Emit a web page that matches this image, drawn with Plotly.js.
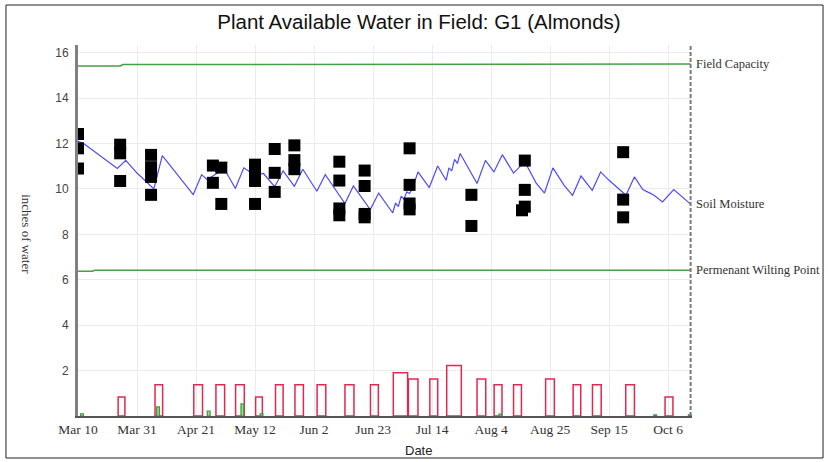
<!DOCTYPE html>
<html>
<head>
<meta charset="utf-8">
<script src="https://cdn.plot.ly/plotly-3.0.1.min.js"></script>
<style>
  html, body { margin: 0; padding: 0; background: #fff; }
  #chart { width: 828px; height: 462px; }
</style>
</head>
<body>
<div id="chart"></div>
<script>
// Soil moisture model line (inches of water)
const soilDates = ['2017-03-10', '2017-03-12', '2017-03-24', '2017-03-27', '2017-03-31', '2017-04-06',
  '2017-04-09', '2017-04-20', '2017-04-23', '2017-04-25', '2017-05-01', '2017-05-05', '2017-05-08',
  '2017-05-12', '2017-05-15', '2017-05-19', '2017-05-22', '2017-05-26', '2017-05-29', '2017-06-03',
  '2017-06-06', '2017-06-13', '2017-06-16', '2017-06-22', '2017-06-25', '2017-06-30', '2017-07-01',
  '2017-07-02', '2017-07-03', '2017-07-04', '2017-07-05', '2017-07-06', '2017-07-07', '2017-07-09',
  '2017-07-13', '2017-07-16', '2017-07-19', '2017-07-20', '2017-07-21', '2017-07-22', '2017-07-23',
  '2017-07-24', '2017-07-30', '2017-08-02', '2017-08-05', '2017-08-08', '2017-08-12', '2017-08-16',
  '2017-08-20', '2017-08-23', '2017-08-26', '2017-08-30', '2017-09-02', '2017-09-05', '2017-09-09',
  '2017-09-12', '2017-09-15', '2017-09-21', '2017-09-24', '2017-09-27', '2017-09-29', '2017-10-01',
  '2017-10-04', '2017-10-08', '2017-10-14'];
const soilValues = [12.1, 12.0, 10.9, 11.26, 10.7, 10.0,
  11.47, 9.75, 10.63, 10.41, 10.9, 10.02, 10.93,
  10.6, 10.68, 10.1, 10.8, 10.12, 10.87, 9.9,
  10.63, 9.36, 10.13, 9.09, 9.82, 8.94, 9.38,
  9.22, 9.68, 9.55, 9.87, 9.8, 10.02, 10.75,
  10.06, 11.01, 10.38, 10.93, 10.8, 11.3, 11.12,
  11.56, 10.24, 11.26, 10.75, 11.51, 10.7, 11.2,
  10.27, 9.82, 10.93, 10.16, 9.72, 10.57, 9.94,
  10.75, 10.38, 9.72, 10.53, 9.97, 9.85, 9.72,
  9.43, 9.97, 9.33];

// Field readings (black squares)
const readDates = ['2017-03-10', '2017-03-10', '2017-03-10',
  '2017-03-25', '2017-03-25', '2017-03-25',
  '2017-04-05', '2017-04-05', '2017-04-05', '2017-04-05',
  '2017-04-27', '2017-04-27', '2017-04-30', '2017-04-30',
  '2017-05-12', '2017-05-12', '2017-05-12', '2017-05-12',
  '2017-05-19', '2017-05-19', '2017-05-19',
  '2017-05-26', '2017-05-26', '2017-05-26',
  '2017-06-11', '2017-06-11', '2017-06-11', '2017-06-11',
  '2017-06-20', '2017-06-20', '2017-06-20', '2017-06-20',
  '2017-07-06', '2017-07-06', '2017-07-06', '2017-07-06',
  '2017-07-28', '2017-07-28',
  '2017-08-15', '2017-08-16', '2017-08-16', '2017-08-16',
  '2017-09-20', '2017-09-20', '2017-09-20'];
const readValues = [12.42, 11.79, 10.9,
  11.95, 11.57, 10.35,
  11.5, 10.96, 10.53, 9.74,
  11.03, 10.27, 10.94, 9.34,
  11.07, 10.71, 10.35, 9.34,
  11.76, 10.71, 9.87,
  11.92, 11.27, 10.87,
  11.2, 10.37, 9.14, 8.84,
  10.81, 10.13, 8.9, 8.75,
  11.79, 10.18, 9.36, 9.1,
  9.74, 8.37,
  9.06, 11.25, 9.96, 9.22,
  11.62, 9.53, 8.75];

// Field capacity and permanent wilting point
const fcDates = ['2017-03-10', '2017-03-25', '2017-03-26', '2017-04-05', '2017-04-06', '2017-10-14'];
const fcValues = [15.42, 15.42, 15.48, 15.48, 15.5, 15.5];
const pwpDates = ['2017-03-10', '2017-03-15', '2017-03-16', '2017-10-14'];
const pwpValues = [6.38, 6.38, 6.42, 6.42];

// Irrigation events (red outlined bars): start, duration in days, inches
const irrigStart = ['2017-03-24 07:00', '2017-04-06 10:00', '2017-04-20 05:00', '2017-04-28 02:00',
  '2017-05-05 02:00', '2017-05-12 05:00', '2017-05-19 07:00', '2017-05-26 05:00', '2017-06-03 02:00',
  '2017-06-13 00:00', '2017-06-22 02:00', '2017-06-30 05:00', '2017-07-05 14:00', '2017-07-13 05:00',
  '2017-07-19 05:00', '2017-07-30 00:00', '2017-08-05 02:00', '2017-08-12 00:00', '2017-08-23 10:00',
  '2017-09-02 05:00', '2017-09-09 02:00', '2017-09-20 22:00', '2017-10-04 22:00'];
const irrigDays = [2.4, 2.7, 3.1, 3.1, 3.1, 2.4, 2.7, 3.0, 3.1, 3.2, 2.8, 5.1, 3.4, 2.8,
  5.2, 3.1, 2.8, 2.8, 3.1, 2.7, 3.1, 3.1, 2.8];
const irrigInches = [0.84, 1.38, 1.38, 1.38, 1.38, 0.84, 1.38, 1.38, 1.38, 1.38, 1.38, 1.9, 1.63, 1.63,
  2.22, 1.63, 1.38, 1.38, 1.63, 1.38, 1.38, 1.38, 0.84];

// Rain events (small green bars)
const rainDates = ['2017-03-11 10:00', '2017-04-07 12:00', '2017-04-25 12:00', '2017-05-07 12:00',
  '2017-05-14 07:00', '2017-08-07 07:00', '2017-10-01 10:00', '2017-10-13 17:00'];
const rainInches = [0.1, 0.4, 0.22, 0.54, 0.09, 0.08, 0.05, 0.05];

const DAY = 86400000;
const endDate = '2017-10-14';
const serif = 'Liberation Serif, Times New Roman, serif';
const sans = 'Liberation Sans, Arial, sans-serif';

const traces = [
  {
    type: 'bar', x: irrigStart, y: irrigInches,
    width: irrigDays.map(d => d * DAY), offset: 0,
    marker: { color: 'rgba(255,255,255,0)', line: { color: '#e0294f', width: 1.5 } },
    hoverinfo: 'skip'
  },
  {
    type: 'bar', x: rainDates, y: rainInches,
    width: rainDates.map(() => 1.0 * DAY),
    marker: { color: '#9ad89a', line: { color: '#3c9a3c', width: 1.2 } },
    hoverinfo: 'skip'
  },
  {
    type: 'scatter', mode: 'lines', x: fcDates, y: fcValues,
    line: { color: '#45a045', width: 1.5 }
  },
  {
    type: 'scatter', mode: 'lines', x: pwpDates, y: pwpValues,
    line: { color: '#45a045', width: 1.5 }
  },
  {
    type: 'scatter', mode: 'lines', x: soilDates, y: soilValues,
    line: { color: '#4c4cf5', width: 1.2 }
  },
  {
    type: 'scatter', mode: 'markers', x: readDates, y: readValues,
    marker: { symbol: 'square', size: 12, color: '#000' }
  }
];

const labelFont = { family: serif, size: 12.5, color: '#333' };

const layout = {
  width: 828, height: 462,
  margin: { l: 78, r: 136, t: 45, b: 46 },
  paper_bgcolor: '#fff', plot_bgcolor: '#fff',
  showlegend: false,
  barmode: 'overlay',
  title: {
    text: 'Plant Available Water in Field: G1 (Almonds)',
    font: { family: sans, size: 20.5, color: '#111' },
    xref: 'container', x: 0.506, xanchor: 'center',
    yref: 'container', y: 0.952, yanchor: 'middle'
  },
  xaxis: {
    type: 'date',
    range: ['2017-03-10', '2017-10-14 12:00'],
    tick0: '2017-03-10', dtick: 21 * DAY,
    tickformat: '%b %-d',
    tickfont: { family: serif, size: 13.5, color: '#333' },
    showgrid: true, gridcolor: '#ebebeb',
    showline: true, linecolor: '#555', linewidth: 2,
    zeroline: false, ticks: ''
  },
  yaxis: {
    range: [0, 16.34],
    tickvals: [2, 4, 6, 8, 10, 12, 14, 16],
    tickfont: { family: sans, size: 12, color: '#444' },
    ticklabelstandoff: 4,
    showgrid: true, gridcolor: '#ebebeb',
    showline: true, linecolor: '#808080', linewidth: 3,
    zeroline: false, ticks: ''
  },
  shapes: [
    {
      type: 'line', xref: 'x', yref: 'paper',
      x0: endDate, x1: endDate, y0: 0, y1: 1,
      line: { color: '#7a7a7a', width: 2, dash: '4px,2px' }
    },
    {
      type: 'rect', xref: 'paper', yref: 'paper',
      x0: -0.1173, x1: 1.2134, y0: -0.1132, y1: 1.1078,
      line: { color: '#222', width: 1 }
    }
  ],
  annotations: [
    { x: endDate, y: 15.5, text: 'Field Capacity', xanchor: 'left', yanchor: 'middle', xshift: 3,
      showarrow: false, font: labelFont },
    { x: endDate, y: soilValues[soilValues.length - 1], text: 'Soil Moisture', xanchor: 'left', yanchor: 'middle', xshift: 3,
      showarrow: false, font: labelFont },
    { x: endDate, y: 6.42, text: 'Permenant Wilting Point', xanchor: 'left', yanchor: 'middle', xshift: 3,
      showarrow: false, font: labelFont },
    { xref: 'paper', yref: 'paper', x: 0.555, y: -0.092, text: 'Date',
      xanchor: 'center', yanchor: 'middle', showarrow: false,
      font: { family: sans, size: 13, color: '#222' } },
    { xref: 'paper', yref: 'paper', x: -0.083, y: 0.49, text: 'inches of water', textangle: 90,
      xanchor: 'center', yanchor: 'middle', showarrow: false,
      font: { family: serif, size: 13, color: '#333' } }
  ]
};

Plotly.newPlot('chart', traces, layout, { displayModeBar: false, staticPlot: true });
</script>
</body>
</html>
